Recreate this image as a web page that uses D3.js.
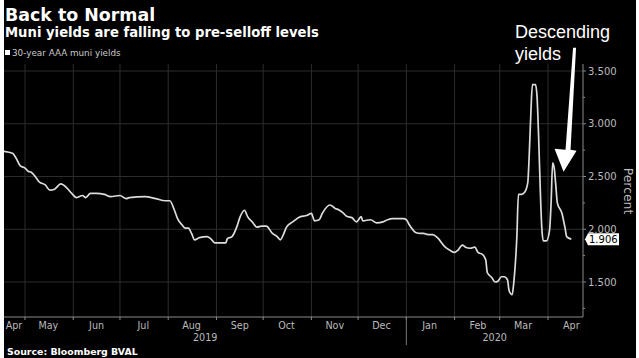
<!DOCTYPE html>
<html>
<head>
<meta charset="utf-8">
<script src="https://cdn.jsdelivr.net/npm/d3@7"></script>
<style>
	body { margin: 0; background: #fff; }
	svg { display: block; font-family: "DejaVu Sans", sans-serif; }
</style>
</head>
<body>
<div class="wrapper"></div>
<script>

var dates = [
	"2019-04-17", "2019-04-23", "2019-04-25", "2019-04-28", "2019-05-01", "2019-05-03", "2019-05-05",
	"2019-05-08", "2019-05-10", "2019-05-14", "2019-05-17", "2019-05-20", "2019-05-24", "2019-05-28",
	"2019-05-31", "2019-06-03", "2019-06-07", "2019-06-09", "2019-06-12", "2019-06-16", "2019-06-21",
	"2019-06-25", "2019-07-01", "2019-07-05", "2019-07-07", "2019-07-17", "2019-07-24", "2019-07-30",
	"2019-08-02", "2019-08-05", "2019-08-07", "2019-08-10", "2019-08-12", "2019-08-14", "2019-08-16",
	"2019-08-18", "2019-08-21", "2019-08-26", "2019-08-29", "2019-08-31", "2019-09-07", "2019-09-08",
	"2019-09-11", "2019-09-14", "2019-09-16", "2019-09-19", "2019-09-21", "2019-09-24", "2019-09-27",
	"2019-09-30", "2019-10-03", "2019-10-07", "2019-10-10", "2019-10-12", "2019-10-14", "2019-10-16",
	"2019-10-20", "2019-10-25", "2019-10-29", "2019-11-01", "2019-11-03", "2019-11-06", "2019-11-08",
	"2019-11-13", "2019-11-16", "2019-11-19", "2019-11-21", "2019-11-24", "2019-11-27", "2019-11-30",
	"2019-12-03", "2019-12-04", "2019-12-09", "2019-12-13", "2019-12-17", "2019-12-20", "2019-12-23",
	"2019-12-30", "2020-01-01", "2020-01-03", "2020-01-07", "2020-01-10", "2020-01-12", "2020-01-15",
	"2020-01-18", "2020-01-21", "2020-01-26", "2020-01-29", "2020-02-01", "2020-02-03", "2020-02-06",
	"2020-02-08", "2020-02-11", "2020-02-14", "2020-02-16", "2020-02-19", "2020-02-21", "2020-02-22",
	"2020-02-25", "2020-02-27", "2020-02-29", "2020-03-02", "2020-03-04", "2020-03-06", "2020-03-07",
	"2020-03-09", "2020-03-10", "2020-03-12", "2020-03-13", "2020-03-15", "2020-03-17", "2020-03-19",
	"2020-03-20", "2020-03-21", "2020-03-22", "2020-03-24", "2020-03-25", "2020-03-26", "2020-03-27",
	"2020-03-28", "2020-03-29", "2020-03-31", "2020-04-02", "2020-04-03", "2020-04-04", "2020-04-05",
	"2020-04-06", "2020-04-07", "2020-04-10", "2020-04-12", "2020-04-13", "2020-04-16"
];

var yields = [
	2.74, 2.72, 2.68, 2.60, 2.58, 2.55, 2.54,
	2.49, 2.45, 2.42, 2.37, 2.38, 2.43, 2.39,
	2.34, 2.30, 2.32, 2.30, 2.34, 2.34, 2.33,
	2.31, 2.32, 2.29, 2.30, 2.31, 2.29, 2.27,
	2.27, 2.18, 2.10, 2.04, 2.01, 2.01, 1.96,
	1.90, 1.92, 1.93, 1.90, 1.87, 1.87, 1.91,
	1.93, 2.02, 2.11, 2.18, 2.12, 2.07, 2.02,
	2.03, 2.03, 1.96, 1.93, 1.90, 1.95, 2.02,
	2.07, 2.12, 2.13, 2.15, 2.08, 2.09, 2.15,
	2.23, 2.20, 2.18, 2.16, 2.12, 2.11, 2.07,
	2.12, 2.08, 2.09, 2.06, 2.07, 2.09, 2.10,
	2.10, 2.09, 2.04, 1.97, 1.96, 1.96, 1.95,
	1.95, 1.92, 1.83, 1.80, 1.78, 1.80, 1.85,
	1.83, 1.82, 1.83, 1.78, 1.76, 1.71, 1.59,
	1.54, 1.50, 1.51, 1.55, 1.55, 1.52, 1.42,
	1.38, 1.49, 1.93, 2.33, 2.33, 2.35, 2.44,
	2.72, 3.10, 3.37, 3.37, 3.25, 2.87, 2.40,
	2.02, 1.89, 1.89, 1.99, 2.25, 2.63, 2.58,
	2.42, 2.25, 2.15, 2.01, 1.93, 1.906
];

var yTicks = [1.5, 2.0, 2.5, 3.0, 3.5];
var yMinorTicks = [1.25, 1.75, 2.25, 2.75, 3.25];
var seriesName = "30-year AAA muni yields";

var W = 639, H = 358,
	LEFT = 4, RIGHT = 583, TOP = 64, BOTTOM = 317;

var HELV = "'Liberation Sans', Arial, sans-serif";

var parse = d3.timeParse("%Y-%m-%d");
var data = dates.map(function(d, i) {
	return {date: parse(d), value: yields[i]};
});

var d0 = new Date(2019, 3, 17, 12),
	d1 = new Date(2020, 3, 23, 12);

var x = d3.scaleTime().domain([d0, d1]).range([LEFT, RIGHT]);
var y = d3.scaleLinear().domain([1.5, 3.5]).range([282, 71]);

var svg = d3.select(".wrapper")
	.append("svg")
		.attr("width", W)
		.attr("height", H);

svg.append("rect")
	.attr("x", LEFT)
	.attr("y", 0)
	.attr("width", 632)
	.attr("height", H)
	.attr("fill", "#000");

// titles
svg.append("text")
	.text("Back to Normal")
	.attr("x", 5)
	.attr("y", 21)
	.attr("fill", "#fff")
	.attr("font-weight", "bold")
	.attr("font-size", "17.4px");

svg.append("text")
	.text("Muni yields are falling to pre-selloff levels")
	.attr("x", 5)
	.attr("y", 37)
	.attr("fill", "#fff")
	.attr("font-weight", "bold")
	.attr("font-size", "13.2px");

// legend
svg.append("rect")
	.attr("x", 5)
	.attr("y", 50)
	.attr("width", 5)
	.attr("height", 5)
	.attr("fill", "#fff");

svg.append("text")
	.text(seriesName)
	.attr("x", 12)
	.attr("y", 56)
	.attr("fill", "#ccc")
	.attr("font-size", "8.8px");

// grid
var monthStarts = d3.timeMonth.range(d0, d1);

svg.selectAll(".vgrid")
	.data(monthStarts)
	.enter()
	.append("line")
		.attr("class", "vgrid")
		.attr("x1", function(d) {return x(d);})
		.attr("x2", function(d) {return x(d);})
		.attr("y1", TOP)
		.attr("y2", BOTTOM)
		.attr("stroke", "#2c2c2c")
		.attr("stroke-width", 1);

svg.selectAll(".hgrid")
	.data(yTicks)
	.enter()
	.append("line")
		.attr("class", "hgrid")
		.attr("x1", LEFT)
		.attr("x2", RIGHT)
		.attr("y1", function(d) {return y(d);})
		.attr("y2", function(d) {return y(d);})
		.attr("stroke", "#2c2c2c")
		.attr("stroke-width", 1);

// line
svg.append("clipPath")
	.attr("id", "plot")
	.append("rect")
		.attr("x", LEFT)
		.attr("y", TOP)
		.attr("width", RIGHT - LEFT)
		.attr("height", BOTTOM - TOP);

var line = d3.line()
	.x(function(d) {return x(d.date);})
	.y(function(d) {return y(d.value);})
	.curve(d3.curveMonotoneX);

svg.append("path")
	.datum(data)
	.attr("d", line)
	.attr("clip-path", "url(#plot)")
	.attr("fill", "none")
	.attr("stroke", "#dcdcdc")
	.attr("stroke-width", 1.7)
	.attr("stroke-linejoin", "round");

// axes
svg.append("line")
	.attr("x1", LEFT)
	.attr("x2", RIGHT)
	.attr("y1", BOTTOM)
	.attr("y2", BOTTOM)
	.attr("stroke", "#8a8a8a");

svg.append("line")
	.attr("x1", RIGHT)
	.attr("x2", RIGHT)
	.attr("y1", TOP)
	.attr("y2", BOTTOM)
	.attr("stroke", "#8a8a8a");

svg.selectAll(".xtick")
	.data(monthStarts)
	.enter()
	.append("line")
		.attr("class", "xtick")
		.attr("x1", function(d) {return x(d);})
		.attr("x2", function(d) {return x(d);})
		.attr("y1", BOTTOM)
		.attr("y2", BOTTOM + 3)
		.attr("stroke", "#8a8a8a");

var months = d3.timeMonth.range(d3.timeMonth.floor(d0), d1);

svg.selectAll(".mlabel")
	.data(months)
	.enter()
	.append("text")
		.attr("class", "mlabel")
		.text(function(d) {return d3.timeFormat("%b")(d);})
		.attr("x", function(d) {
			var px = x(new Date(d.getFullYear(), d.getMonth(), 16));
			return Math.min(Math.max(px, LEFT + 10), RIGHT - 10);
		})
		.attr("y", 329)
		.attr("text-anchor", "middle")
		.attr("fill", "#bbb")
		.attr("font-size", "9.6px");

var years = d3.timeYear.range(d3.timeYear.floor(d0), d1);

svg.selectAll(".ylabel")
	.data(years)
	.enter()
	.append("text")
		.attr("class", "ylabel")
		.text(function(d) {return d.getFullYear();})
		.attr("x", function(d) {
			var a = Math.max(x(d), LEFT),
				b = Math.min(x(d3.timeYear.offset(d, 1)), RIGHT);
			return (a + b) / 2;
		})
		.attr("y", 341)
		.attr("text-anchor", "middle")
		.attr("fill", "#bbb")
		.attr("font-size", "9.6px");

svg.selectAll(".ysep")
	.data(d3.timeYear.range(d0, d1))
	.enter()
	.append("line")
		.attr("class", "ysep")
		.attr("x1", function(d) {return x(d);})
		.attr("x2", function(d) {return x(d);})
		.attr("y1", BOTTOM)
		.attr("y2", 345)
		.attr("stroke", "#777");

svg.selectAll(".ytick")
	.data(yTicks)
	.enter()
	.append("line")
		.attr("class", "ytick")
		.attr("x1", RIGHT)
		.attr("x2", RIGHT + 3)
		.attr("y1", function(d) {return y(d);})
		.attr("y2", function(d) {return y(d);})
		.attr("stroke", "#8a8a8a");

svg.selectAll(".yminor")
	.data(yMinorTicks)
	.enter()
	.append("line")
		.attr("class", "yminor")
		.attr("x1", RIGHT)
		.attr("x2", RIGHT + 2)
		.attr("y1", function(d) {return y(d);})
		.attr("y2", function(d) {return y(d);})
		.attr("stroke", "#8a8a8a");

svg.selectAll(".yval")
	.data(yTicks)
	.enter()
	.append("text")
		.attr("class", "yval")
		.text(function(d) {return d3.format(".3f")(d);})
		.attr("x", RIGHT + 5)
		.attr("y", function(d) {return y(d);})
		.attr("dy", "0.36em")
		.attr("fill", "#bbb")
		.attr("font-size", "10px");

svg.append("text")
	.text("Percent")
	.attr("transform", "translate(624," + 191 + ") rotate(90)")
	.attr("text-anchor", "middle")
	.attr("fill", "#bbb")
	.attr("font-size", "12.4px");

// last value tag
var last = data[data.length - 1],
	ly = y(last.value);

svg.append("path")
	.attr("d", "M" + (RIGHT + 2) + "," + ly +
		"L" + (RIGHT + 5) + "," + (ly - 6) +
		"L" + (RIGHT + 36) + "," + (ly - 6) +
		"L" + (RIGHT + 36) + "," + (ly + 6) +
		"L" + (RIGHT + 5) + "," + (ly + 6) + "Z")
	.attr("fill", "#fff");

svg.append("text")
	.text(d3.format(".3f")(last.value))
	.attr("x", RIGHT + 6)
	.attr("y", ly)
	.attr("dy", "0.36em")
	.attr("fill", "#000")
	.attr("font-size", "10px");

// annotation
svg.append("text")
	.text("Descending")
	.attr("x", 515)
	.attr("y", 38)
	.attr("fill", "#fff")
	.style("font-family", HELV)
	.attr("font-size", "18px");

svg.append("text")
	.text("yields")
	.attr("x", 515)
	.attr("y", 60)
	.attr("fill", "#fff")
	.style("font-family", HELV)
	.attr("font-size", "18px");

var tx = x(new Date(2020, 3, 11)),
	ty = y(2.545);

var arrow = [
	[9.5, -124], [12.5, -124], [7, -22], [13, -21],
	[0, 0], [-9, -23], [2, -22]
];

svg.append("polygon")
	.attr("points", arrow.map(function(p) {
		return (tx + p[0]) + "," + (ty + p[1]);
	}).join(" "))
	.attr("fill", "#fff");

// source
svg.append("text")
	.text("Source: Bloomberg BVAL")
	.attr("x", 7)
	.attr("y", 355)
	.attr("fill", "#fff")
	.attr("font-weight", "bold")
	.attr("font-size", "9.4px");

</script>
</body>
</html>
